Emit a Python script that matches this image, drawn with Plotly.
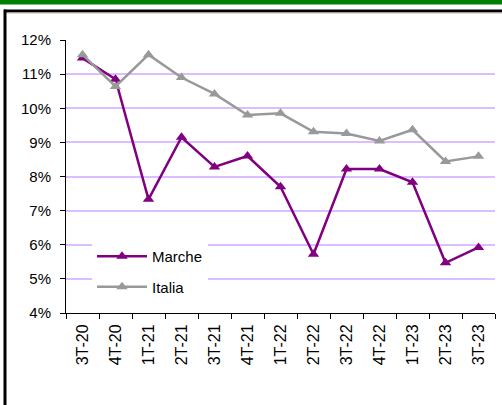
import plotly.graph_objects as go

# Quarterly unemployment rate (%), Marche vs Italia
quarters = ["3T-20", "4T-20", "1T-21", "2T-21", "3T-21", "4T-21", "1T-22",
            "2T-22", "3T-22", "4T-22", "1T-23", "2T-23", "3T-23"]
marche = [11.47, 10.85, 7.33, 9.15, 8.28, 8.60, 7.70, 5.72, 8.22, 8.22, 7.83, 5.47, 5.92]
italia = [11.57, 10.64, 11.57, 10.90, 10.42, 9.80, 9.85, 9.31, 9.26, 9.04, 9.37, 8.44, 8.59]
y_ticks = [4, 5, 6, 7, 8, 9, 10, 11, 12]
y_tick_text = [f"{v}%" for v in y_ticks]

W, H = 502, 405
L, R, T, B = 66, 7, 40, 92
PW, PH = W - L - R, H - T - B


def px_x(px):
    return (px - L) / PW


def px_y(py):
    return (H - B - py) / PH


FONT = "Arial, Liberation Sans, sans-serif"

fig = go.Figure()
fig.add_trace(go.Scatter(
    x=quarters, y=marche, name="Marche", mode="lines+markers",
    line=dict(color="#800080", width=2.5),
    marker=dict(symbol="triangle-up", size=10, color="#800080"),
    legendgroup="m",
))
fig.add_trace(go.Scatter(
    x=quarters, y=italia, name="Italia", mode="lines+markers",
    line=dict(color="#999999", width=2.5),
    marker=dict(symbol="triangle-up", size=10, color="#999999"),
    legendgroup="i",
))

shapes = [
    # green header band
    dict(type="rect", xref="paper", yref="paper", layer="above",
         x0=px_x(0), x1=px_x(W), y0=px_y(4.5), y1=px_y(0),
         fillcolor="#008000", line=dict(width=0)),
    # frame: top and left black rules
    dict(type="rect", xref="paper", yref="paper", layer="above",
         x0=px_x(4), x1=px_x(W), y0=px_y(12.5), y1=px_y(9.5),
         fillcolor="#000000", line=dict(width=0)),
    dict(type="line", xref="paper", yref="paper", layer="above",
         x0=px_x(4), x1=px_x(W), y0=px_y(13), y1=px_y(13),
         line=dict(color="#BBBBBB", width=1)),
    dict(type="rect", xref="paper", yref="paper", layer="above",
         x0=px_x(3.5), x1=px_x(6.5), y0=px_y(H), y1=px_y(9.5),
         fillcolor="#000000", line=dict(width=0)),
]

fig.update_layout(
    width=W, height=H,
    margin=dict(l=L, r=R, t=T, b=B),
    paper_bgcolor="white", plot_bgcolor="white",
    font=dict(family=FONT, size=15, color="black"),
    shapes=shapes,
    showlegend=True,
    legend=dict(
        x=px_x(92), y=px_y(240), xanchor="left", yanchor="top",
        bgcolor="white", borderwidth=0,
        font=dict(family=FONT, size=15, color="black"),
        tracegroupgap=8, traceorder="grouped",
        itemwidth=50,
    ),
    xaxis=dict(
        type="category", range=[-0.5, len(quarters) - 0.5],
        showgrid=False, showline=True, linecolor="black", linewidth=1,
        ticks="outside", ticklen=5, tickcolor="black", tickson="boundaries",
        tickangle=-90, tickfont=dict(family=FONT, size=16, color="black"),
        ticklabelstandoff=4,
        zeroline=False,
    ),
    yaxis=dict(
        range=[4, 12], tickvals=y_ticks, ticktext=y_tick_text,
        showgrid=True, gridcolor="#DCBDFF", gridwidth=1.5,
        showline=True, linecolor="black", linewidth=1,
        ticks="outside", ticklen=5, tickcolor="black",
        tickfont=dict(family=FONT, size=15, color="black"),
        ticklabelstandoff=6,
        zeroline=False,
    ),
)

fig.write_html("out.html")
